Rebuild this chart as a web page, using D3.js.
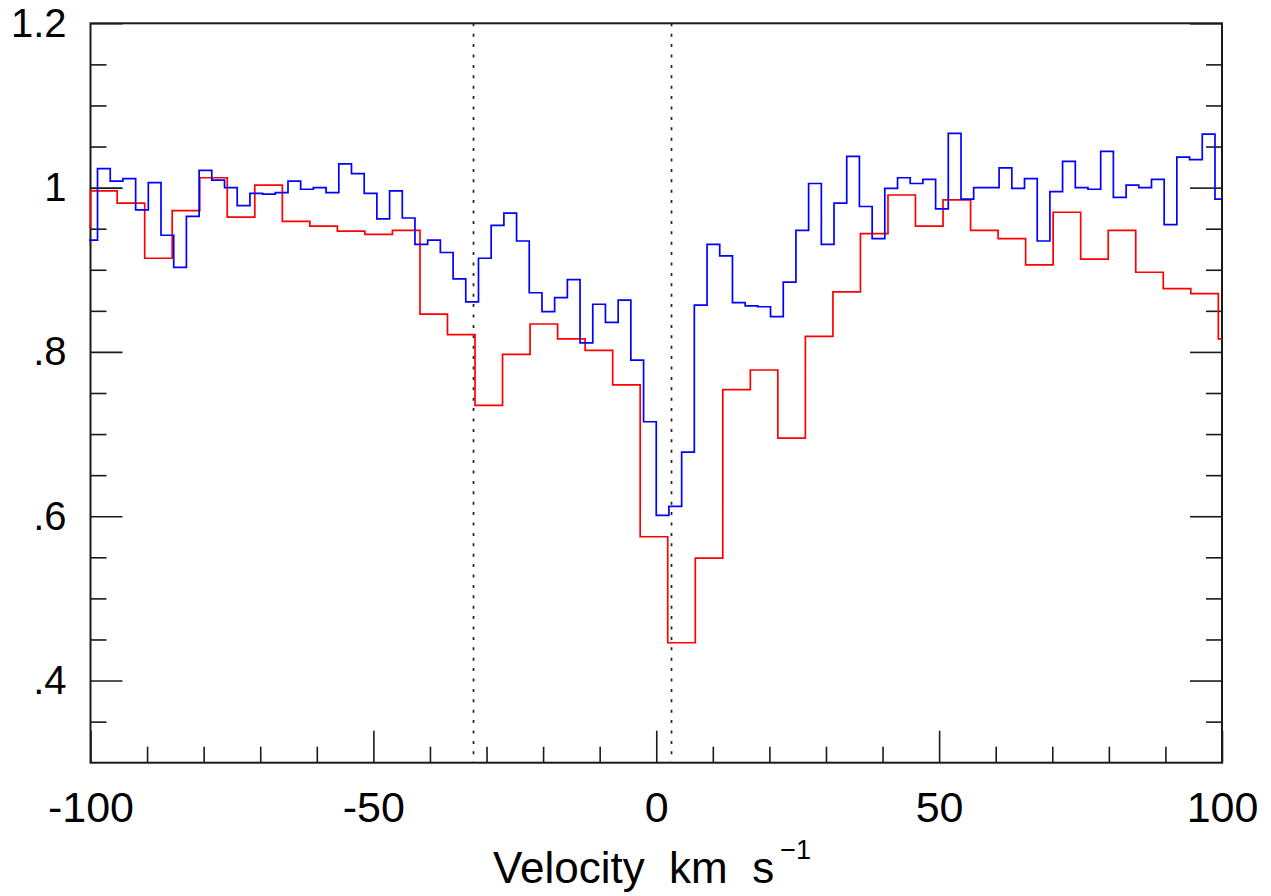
<!DOCTYPE html>
<html><head><meta charset="utf-8">
<script src="https://cdn.jsdelivr.net/npm/d3@7"></script>
<style>html,body{margin:0;padding:0;background:#fff;} svg{display:block;}</style>
</head><body>
<svg id="chart" width="1271" height="896"></svg>
<script>
// ---------- data ----------
const blueEdges = [-101.00,-98.76,-96.51,-94.27,-92.02,-89.78,-87.54,-85.29,-83.05,-80.80,
  -78.56,-76.31,-74.07,-71.82,-69.58,-67.34,-65.09,-62.85,-60.60,-58.36,
  -56.11,-53.87,-51.62,-49.38,-47.13,-44.89,-42.65,-40.40,-38.16,-35.91,
  -33.67,-31.42,-29.18,-26.93,-24.69,-22.45,-20.20,-17.96,-15.71,-13.47,
  -11.22,-8.98,-6.73,-4.49,-2.24,0.00,2.24,4.49,6.73,8.98,
  11.22,13.47,15.71,17.96,20.20,22.45,24.69,26.93,29.18,31.42,
  33.67,35.91,38.16,40.40,42.65,44.89,47.13,49.38,51.62,53.87,
  56.11,58.36,60.60,62.85,65.09,67.34,69.58,71.82,74.07,76.31,
  78.56,80.80,83.05,85.29,87.54,89.78,92.02,94.27,96.51,98.76,101.00];
const blueFlux = [0.936,1.023,1.008,1.011,0.973,1.006,0.942,0.903,0.965,1.021,
  1.009,1.000,0.978,0.993,0.992,0.994,1.008,0.998,1.000,0.994,
  1.029,1.017,0.993,0.962,0.996,0.963,0.931,0.936,0.921,0.889,
  0.861,0.914,0.954,0.969,0.935,0.872,0.849,0.866,0.888,0.811,
  0.858,0.836,0.863,0.790,0.715,0.601,0.612,0.678,0.857,0.931,
  0.917,0.860,0.856,0.855,0.843,0.885,0.948,1.005,0.931,0.981,
  1.038,0.977,0.938,0.999,1.012,1.005,1.010,0.974,1.066,0.986,
  1.000,1.000,1.024,0.999,1.011,0.935,0.995,1.032,1.000,0.998,
  1.044,0.988,1.003,1.000,1.010,0.955,1.037,1.034,1.065,0.986];
const redEdges = [-105.02,-100.00,-95.29,-90.42,-85.56,-80.69,-75.83,-70.96,-66.09,-61.23,
  -56.36,-51.50,-46.63,-41.76,-36.90,-32.03,-27.17,-22.30,-17.43,-12.57,
  -7.70,-2.84,2.03,6.90,11.76,16.63,21.49,26.36,31.23,36.09,
  40.96,45.82,50.69,55.56,60.42,65.29,70.15,75.02,79.89,84.75,
  89.62,94.48,99.35,104.22];
const redFlux = [0.952,0.996,0.981,0.914,0.972,1.012,0.964,1.003,0.959,0.953,
  0.947,0.943,0.948,0.846,0.821,0.735,0.797,0.834,0.816,0.802,
  0.760,0.575,0.446,0.549,0.754,0.778,0.695,0.819,0.873,0.944,
  0.991,0.953,0.985,0.948,0.938,0.906,0.970,0.913,0.948,0.897,
  0.877,0.871,0.816];
const markerVelocities = [-32.3, 2.7];
const xMajorTicks = [-100, -50, 0, 50, 100];
const xTickLabels = ['-100', '-50', '0', '50', '100'];
const xMinorTicks = [-90,-80,-70,-60,-40,-30,-20,-10,10,20,30,40,60,70,80,90];
const yMajorTicks = [0.4, 0.6, 0.8, 1.0, 1.2];
const yTickLabels = ['.4', '.6', '.8', '1', '1.2'];
const yMinorTicks = [0.35,0.45,0.5,0.55,0.65,0.7,0.75,0.85,0.9,0.95,1.05,1.1,1.15];
const xTitle = 'Velocity  km  s';
const xTitleSup = '\u22121';

// ---------- layout ----------
const L = 90.5, R = 1222, T = 23.3, B = 762.7;
const svg = d3.select('#chart');
const x = d3.scaleLinear().domain([-100, 100]).range([L, R]);
const y = d3.scaleLinear().domain([0.3, 1.2]).range([B, T]);
const axisColor = '#1a1a1a';
const labelFont = '"Liberation Sans", Arial, Helvetica, sans-serif';

function styleAxis(g) {
  g.select('.domain').remove();
  g.selectAll('.tick line').attr('stroke', axisColor).attr('stroke-width', 1.6);
  g.selectAll('.tick text').attr('fill', '#000').attr('font-family', labelFont);
}

// bottom axis
svg.append('g').attr('transform', `translate(0,${B})`)
  .call(d3.axisBottom(x).tickValues(xMinorTicks).tickSize(-16).tickFormat(''))
  .call(styleAxis);
svg.append('g').attr('transform', `translate(0,${B})`)
  .call(d3.axisBottom(x).tickValues(xMajorTicks).tickSize(-32).tickPadding(29)
    .tickFormat((d, i) => xTickLabels[i]))
  .call(styleAxis)
  .call(g => g.selectAll('.tick text').attr('font-size', 43));
// left axis
svg.append('g').attr('transform', `translate(${L},0)`)
  .call(d3.axisLeft(y).tickValues(yMinorTicks).tickSize(-16).tickFormat(''))
  .call(styleAxis);
svg.append('g').attr('transform', `translate(${L},0)`)
  .call(d3.axisLeft(y).tickValues(yMajorTicks).tickSize(-32).tickPadding(24)
    .tickFormat((d, i) => yTickLabels[i]))
  .call(styleAxis)
  .call(g => g.selectAll('.tick text').attr('font-size', 40));
// right axis
svg.append('g').attr('transform', `translate(${R},0)`)
  .call(d3.axisRight(y).tickValues(yMinorTicks).tickSize(-16).tickFormat(''))
  .call(styleAxis);
svg.append('g').attr('transform', `translate(${R},0)`)
  .call(d3.axisRight(y).tickValues(yMajorTicks).tickSize(-32).tickFormat(''))
  .call(styleAxis);

// frame
svg.append('rect').attr('x', L).attr('y', T).attr('width', R - L).attr('height', B - T)
  .attr('fill', 'none').attr('stroke', axisColor).attr('stroke-width', 2);

// clip
svg.append('clipPath').attr('id', 'plotclip').append('rect')
  .attr('x', L - 1.5).attr('y', T).attr('width', R - L + 1.5).attr('height', B - T);

// dotted markers
svg.append('g').selectAll('line').data(markerVelocities).join('line')
  .attr('x1', d => x(d)).attr('x2', d => x(d)).attr('y1', T).attr('y2', B)
  .attr('stroke', '#222').attr('stroke-width', 1.7).attr('stroke-dasharray', '3,7.4');

// step spectra
function stepPoints(edges, flux) {
  const pts = flux.map((f, i) => [edges[i], f]);
  pts.push([edges[flux.length], flux[flux.length - 1]]);
  return pts;
}
const line = d3.line().x(d => x(d[0])).y(d => y(d[1])).curve(d3.curveStepAfter);
const plot = svg.append('g').attr('clip-path', 'url(#plotclip)');
plot.append('path').datum(stepPoints(redEdges, redFlux))
  .attr('d', line).attr('fill', 'none').attr('stroke', '#ff0000').attr('stroke-width', 1.7);
plot.append('path').datum(stepPoints(blueEdges, blueFlux))
  .attr('d', line).attr('fill', 'none').attr('stroke', '#0000ff').attr('stroke-width', 1.7);

// x title
const title = svg.append('text').attr('x', 493).attr('y', 883)
  .attr('font-family', labelFont).attr('font-size', 44).attr('fill', '#000')
  .style('white-space', 'pre').attr('xml:space', 'preserve');
title.append('tspan').text(xTitle);
title.append('tspan').attr('dx', 6).attr('dy', -24).attr('font-size', 27).text(xTitleSup);
</script>
</body></html>
